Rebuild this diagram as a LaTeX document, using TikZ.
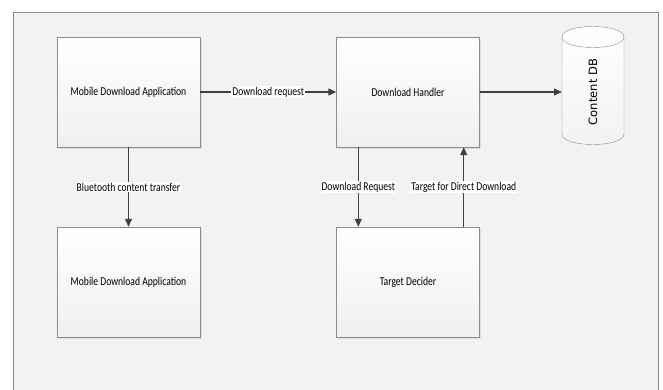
\documentclass[tikz,border=0pt]{standalone}
\usepackage{fontspec}
\setmainfont{Carlito}
\newfontfamily\dbfont{DejaVu Sans}
\usetikzlibrary{arrows.meta,shadows}
\definecolor{lienzo}{HTML}{F2F2F2}
\definecolor{marco}{HTML}{8C8C8C}
\definecolor{trazo}{HTML}{404040}
\newcommand{\estrecho}[1]{\scalebox{.8}[1]{#1}}

\begin{document}
\begin{tikzpicture}[x=1pt,y=-1pt,>={Triangle[length=8pt,width=7pt]},
  bloque/.style={draw=marco,top color=white,bottom color=gray!12,
    minimum width=143pt,minimum height=110pt,inner sep=0pt,
    drop shadow={opacity=.18,shadow xshift=1.5pt,shadow yshift=-1.5pt},
    font=\fontsize{12}{14}\selectfont},
  flecha/.style={draw=trazo,line width=1.1pt},
  rotulo/.style={fill=white,inner sep=1pt,font=\fontsize{12}{14}\selectfont}]
  \useasboundingbox (0,0) rectangle (663,389);
  \clip (0,0) rectangle (663,389);
  \draw[marco,fill=lienzo] (13,12) rectangle (658,420);
  % bloques
  \node[bloque] (movilA) at (128.5,92) {\estrecho{Mobile Download Application}};
  \node[bloque] (movilB) at (128.5,282) {\estrecho{Mobile Download Application}};
  \node[bloque] (gestor) at (408,92) {\estrecho{Download Handler}};
  \node[bloque] (decisor) at (408,282) {\estrecho{Target Decider}};
  % base de datos
  \draw[marco,top color=white,bottom color=gray!10]
    (562,37) -- (562,134) .. controls (562,148) and (624,148) .. (624,134)
    -- (624,37) .. controls (624,23) and (562,23) .. (562,37) -- cycle;
  \draw[marco] (562,37) .. controls (562,51) and (624,51) .. (624,37);
  \node[rotate=90,font=\dbfont\fontsize{11.5}{13}\selectfont] (contenido) at (593,92) {Content DB};
  \coordinate (entradaBD) at (562,92);
  % flechas
  \draw[flecha,->] (movilA) -- (gestor)
    node[midway,rotulo]{\estrecho{Download request}};
  \draw[flecha,->] (gestor.east) -- (entradaBD);
  \draw[flecha,->] (movilA) -- (movilB)
    node[midway,rotulo]{\estrecho{Bluetooth content transfer}};
  \draw[flecha,->] ([xshift=22pt]gestor.south west) -- ([xshift=22pt]decisor.north west)
    node[midway,rotulo]{\estrecho{Download Request}};
  \draw[flecha,->] ([xshift=-16pt]decisor.north east) -- ([xshift=-16pt]gestor.south east)
    node[midway,rotulo]{\estrecho{Target for Direct Download}};
\end{tikzpicture}
\end{document}
